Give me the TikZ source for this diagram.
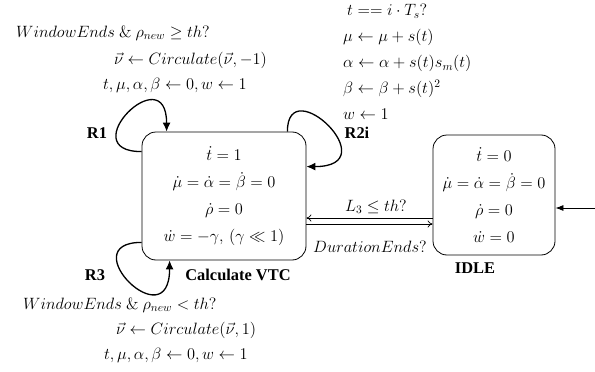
\RequirePackage{fix-cm}
\documentclass[tikz,border=0pt]{standalone}
\usepackage[no-math]{fontspec}
\setmainfont{Liberation Serif}
\usepackage{amsmath}
\usetikzlibrary{arrows.meta,calc}
\tikzset{
  state/.style={draw,line width=.8pt,rounded corners=14pt,align=center,inner sep=0pt},
  plain/.style={inner sep=1pt},
  tag/.style={font=\fontsize{16.4}{20}\selectfont\bfseries,inner sep=1pt},
  loopar/.style={-{Latex[length=9pt,width=8pt]},line width=1.3pt},
  tr/.style={-{To[length=5pt,width=7pt]},line width=.7pt},
  init/.style={-{Latex[length=8pt,width=6pt]},line width=.8pt},
}
\begin{document}
\begin{tikzpicture}[x=1pt,y=-1pt,font=\fontsize{16.4}{27}\selectfont]
  \useasboundingbox (0,0) rectangle (595,372);
  \node[state,minimum width=164pt,minimum height=128pt] (vtc) at (224,196) {$\dot{t}=1$\\$\dot{\mu}=\dot{\alpha}=\dot{\beta}=0$\\$\dot{\rho}=0$\\$\dot{w}=-\gamma,\,(\gamma\ll 1)$};
  \node[state,minimum width=122pt,minimum height=120pt] (idle) at (494,195) {$\dot{t}=0$\\$\dot{\mu}=\dot{\alpha}=\dot{\beta}=0$\\$\dot{\rho}=0$\\$\dot{w}=0$};
  \node[tag] (vtcname) at (238,275) {Calculate VTC};
  \node[tag] (idlename) at (475,268) {IDLE};
  \node[tag] (r1) at (97,133) {R1};
  \node[tag] (r2) at (357,133) {R2i};
  \node[tag] (r3) at (95,275) {R3};

  \draw[loopar] ($(vtc.north west)+(0,20)$) .. controls +(-70,0) and +(0,-75) .. ($(vtc.north west)+(25,0)$);
  \draw[loopar] ($(vtc.north east)+(-19,0)$) .. controls +(0,-62) and +(82,0) .. ($(vtc.north east)+(0,35)$);
  \draw[loopar] ($(vtc.south west)+(0,-18)$) .. controls +(-70,0) and +(0,80) .. ($(vtc.south west)+(28,0)$);

  \coordinate (back) at ([yshift=-23pt]idle.west);
  \coordinate (go) at ([yshift=-29pt]idle.west);
  \draw[tr] (back) -- (back -| vtc.east);
  \draw[tr] (go -| vtc.east) -- (go);
  \node[plain] (lthr) at (376,207) {$L_3\leq th?$};
  \node[plain] (dend) at (370,247) {$DurationEnds?$};

  \coordinate (entry) at (595,208);
  \draw[init] (entry) -- (entry -| idle.east);

  \node[plain,anchor=west] (up1) at (15,33) {$WindowEnds\ \&\ \rho_{new}\geq th?$};
  \node[plain,anchor=west] (up2) at (113,60) {$\vec{\nu}\leftarrow Circulate(\vec{\nu},-1)$};
  \node[plain,anchor=west] (up3) at (102,85) {$t,\mu,\alpha,\beta\leftarrow 0,w\leftarrow 1$};

  \node[plain,anchor=west,align=left,font=\fontsize{16.4}{26}\selectfont] (upd) at (342,62) {\hspace{4pt}$t==i\cdot T_s?$\\$\mu\leftarrow\mu+s(t)$\\$\alpha\leftarrow\alpha+s(t)s_m(t)$\\$\beta\leftarrow\beta+s(t)^2$\\$w\leftarrow 1$};

  \node[plain,anchor=west] (dn1) at (22,305) {$WindowEnds\ \&\ \rho_{new}<th?$};
  \node[plain,anchor=west] (dn2) at (115,330) {$\vec{\nu}\leftarrow Circulate(\vec{\nu},1)$};
  \node[plain,anchor=west] (dn3) at (103,355) {$t,\mu,\alpha,\beta\leftarrow 0,w\leftarrow 1$};
\end{tikzpicture}
\end{document}
